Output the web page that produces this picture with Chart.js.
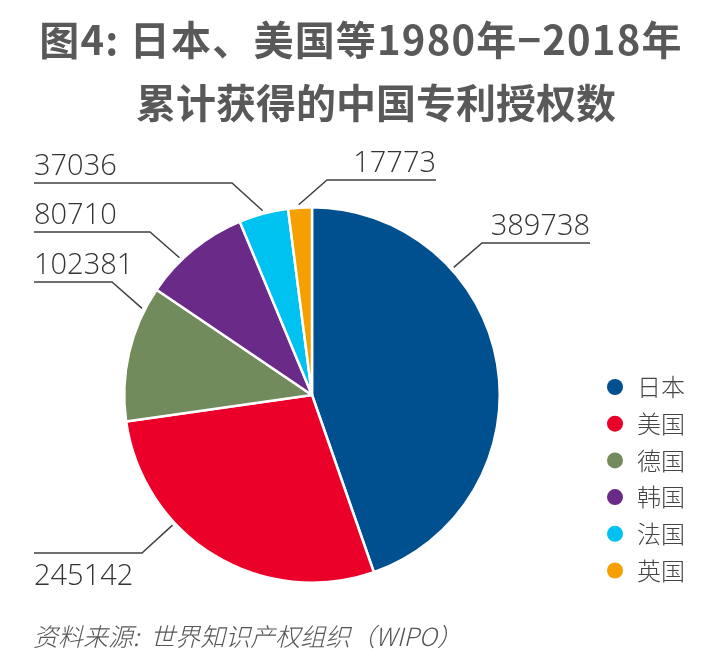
<!DOCTYPE html>
<html>
<head>
<meta charset="utf-8">
<script src="https://cdn.jsdelivr.net/npm/chart.js@4.4.1/dist/chart.umd.min.js"></script>
<style>
  html, body { margin: 0; padding: 0; background: #fff; }
  #wrap { position: relative; width: 721px; height: 671px; }
</style>
</head>
<body>
<div id="wrap"><canvas id="c" width="721" height="671"></canvas></div>
<script>
const countries = ["日本", "美国", "德国", "韩国", "法国", "英国"];
const patents = [389738, 245142, 102381, 80710, 37036, 17773];
const colors = ["#00508F", "#EB0029", "#728B5C", "#6A2A88", "#00C2F0", "#F5A000"];
const titleLines = ["图4: 日本、美国等1980年−2018年", "累计获得的中国专利授权数"];
const sourceText = "资料来源:  世界知识产权组织（WIPO）";

// leader line placement per slice: anchor angle (deg, clockwise from top), elbow, end of line, text side
const callouts = [
  { ang: 48,  elbow: [482, 243], end: 590, below: false },
  { ang: 227, elbow: [142, 553], end: 34,  below: true },
  { ang: -63, elbow: [112, 282], end: 34,  below: false },
  { ang: -44, elbow: [150, 232], end: 34,  below: false },
  { ang: -15, elbow: [232, 183], end: 34,  below: false },
  { ang: -4,  elbow: [327, 180], end: 436, below: false }
];

const decor = {
  id: "decor",
  afterDraw(chart) {
    const ctx = chart.ctx;
    ctx.save();
    // title
    ctx.fillStyle = "#595959";
    ctx.textAlign = "center";
    ctx.textBaseline = "middle";
    ctx.font = "bold 40px 'Noto Sans CJK SC'";
    ctx.letterSpacing = "1.2px";
    ctx.fillText(titleLines[0], 361, 40);
    ctx.letterSpacing = "0px";
    ctx.fillText(titleLines[1], 376, 103);

    // callouts
    const arc0 = chart.getDatasetMeta(0).data[0];
    const cx = arc0.x, cy = arc0.y, r = arc0.outerRadius + 3;
    ctx.strokeStyle = "#404040";
    ctx.lineWidth = 1.5;
    ctx.fillStyle = "#333";
    ctx.font = "300 29px 'Open Sans', 'Liberation Sans'";
    ctx.textBaseline = "alphabetic";
    callouts.forEach((c, i) => {
      const a = c.ang * Math.PI / 180;
      const ax = cx + r * Math.sin(a), ay = cy - r * Math.cos(a);
      ctx.beginPath();
      ctx.moveTo(ax, ay);
      ctx.lineTo(c.elbow[0], c.elbow[1]);
      ctx.lineTo(c.end, c.elbow[1]);
      ctx.stroke();
      const right = c.end > c.elbow[0];
      ctx.textAlign = right ? "right" : "left";
      const ty = c.below ? c.elbow[1] + 32 : c.elbow[1] - 8;
      ctx.fillText(String(patents[i]), c.end, ty);
    });

    // legend
    ctx.font = "300 24px 'Noto Sans CJK SC'";
    ctx.textAlign = "left";
    ctx.textBaseline = "middle";
    countries.forEach((name, i) => {
      const y = 387 + i * 36.7;
      ctx.fillStyle = colors[i];
      ctx.beginPath();
      ctx.arc(615, y, 8, 0, Math.PI * 2);
      ctx.fill();
      ctx.fillStyle = "#444";
      ctx.fillText(name, 637, y);
    });

    // source
    ctx.fillStyle = "#555";
    ctx.font = "italic 300 25px 'Noto Sans CJK SC'";
    ctx.textAlign = "left";
    ctx.fillText(sourceText, 33, 636);
    ctx.restore();
  }
};

new Chart(document.getElementById("c"), {
  type: "pie",
  data: {
    labels: countries,
    datasets: [{
      data: patents,
      backgroundColor: colors,
      borderColor: "#fff",
      borderWidth: 2.5
    }]
  },
  options: {
    responsive: false,
    animation: false,
    layout: { padding: { left: 123, right: 220, top: 206, bottom: 87 } },
    plugins: {
      legend: { display: false },
      tooltip: { enabled: false }
    }
  },
  plugins: [decor]
});
</script>
</body>
</html>
